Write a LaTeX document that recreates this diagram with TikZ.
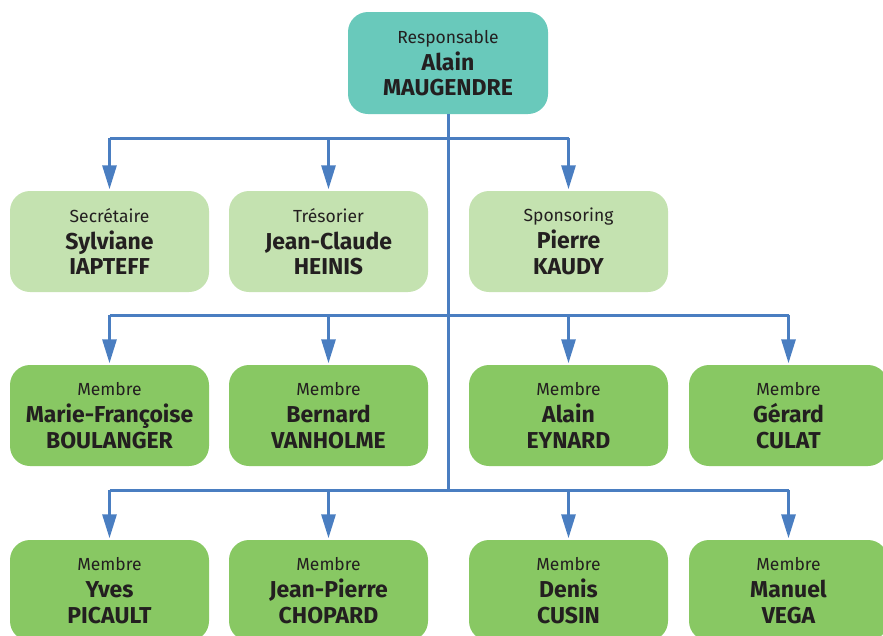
\documentclass[tikz,border=0pt]{standalone}
\usepackage{fontspec}
\setmainfont{Fira Sans}
\usetikzlibrary{arrows.meta,calc}
\definecolor{topc}{HTML}{69C9BB}
\definecolor{lightg}{HTML}{C4E2B0}
\definecolor{midg}{HTML}{88C863}
\definecolor{linec}{HTML}{4A7EC1}
\definecolor{txt}{HTML}{231F20}
\newcommand{\boxtext}[3]{{\fontsize{17.5}{26}\selectfont #1}\\[1pt]{\fontsize{23}{26}\selectfont\bfseries #2}\\[-0.5pt]{\fontsize{23}{26}\selectfont\bfseries #3}}
\tikzset{
  card/.style={rounded corners=20pt, minimum width=199pt, minimum height=101pt, inner sep=0pt, align=center, text=txt, font=\fontsize{23}{26}\selectfont},
  headcard/.style={card, fill=topc, minimum width=200pt, minimum height=102pt},
  officecard/.style={card, fill=lightg},
  membercard/.style={card, fill=midg},
  link/.style={draw=linec, line width=3pt, line join=miter},
  arrowlink/.style={link, -{Triangle[width=14pt,length=24pt]}, shorten >=1.5pt}
}
\begin{document}
\begin{tikzpicture}[x=1pt,y=-1pt]
\useasboundingbox (0,0) rectangle (883,635);
\node[headcard] (head) at (448,63) {\boxtext{Responsable}{Alain}{MAUGENDRE}};
\node[officecard] (sec) at (109.5,241.5) {\boxtext{Secrétaire}{Sylviane}{IAPTEFF}};
\node[officecard] (tre) at (328.5,241.5) {\boxtext{Trésorier}{Jean-Claude}{HEINIS}};
\node[officecard] (spo) at (568.5,241.5) {\boxtext{Sponsoring}{Pierre}{KAUDY}};
\node[membercard] (m1) at (109.5,415.5) {\boxtext{Membre}{Marie-Françoise}{BOULANGER}};
\node[membercard] (m2) at (328.5,415.5) {\boxtext{Membre}{Bernard}{VANHOLME}};
\node[membercard] (m3) at (568.5,415.5) {\boxtext{Membre}{Alain}{EYNARD}};
\node[membercard] (m4) at (788.5,415.5) {\boxtext{Membre}{Gérard}{CULAT}};
\node[membercard] (m5) at (109.5,590.5) {\boxtext{Membre}{Yves}{PICAULT}};
\node[membercard] (m6) at (328.5,590.5) {\boxtext{Membre}{Jean-Pierre}{CHOPARD}};
\node[membercard] (m7) at (568.5,590.5) {\boxtext{Membre}{Denis}{CUSIN}};
\node[membercard] (m8) at (788.5,590.5) {\boxtext{Membre}{Manuel}{VEGA}};
\coordinate (bus1) at (0,138);
\coordinate (bus2) at (0,315);
\coordinate (bus3) at (0,490);
\coordinate (trunkend) at (448,490);
% trunk
\draw[link] (head.south) -- (trunkend);
% buses
\draw[link] (sec.north |- bus1) -- (spo.north |- bus1);
\draw[link] (m1.north |- bus2) -- (m4.north |- bus2);
\draw[link] (m5.north |- bus3) -- (m8.north |- bus3);
% arrows
\foreach \n in {sec,tre,spo} \draw[arrowlink] (\n.north |- bus1) -- (\n.north);
\foreach \n in {m1,m2,m3,m4} \draw[arrowlink] (\n.north |- bus2) -- (\n.north);
\foreach \n in {m5,m6,m7,m8} \draw[arrowlink] (\n.north |- bus3) -- (\n.north);
\end{tikzpicture}
\end{document}
